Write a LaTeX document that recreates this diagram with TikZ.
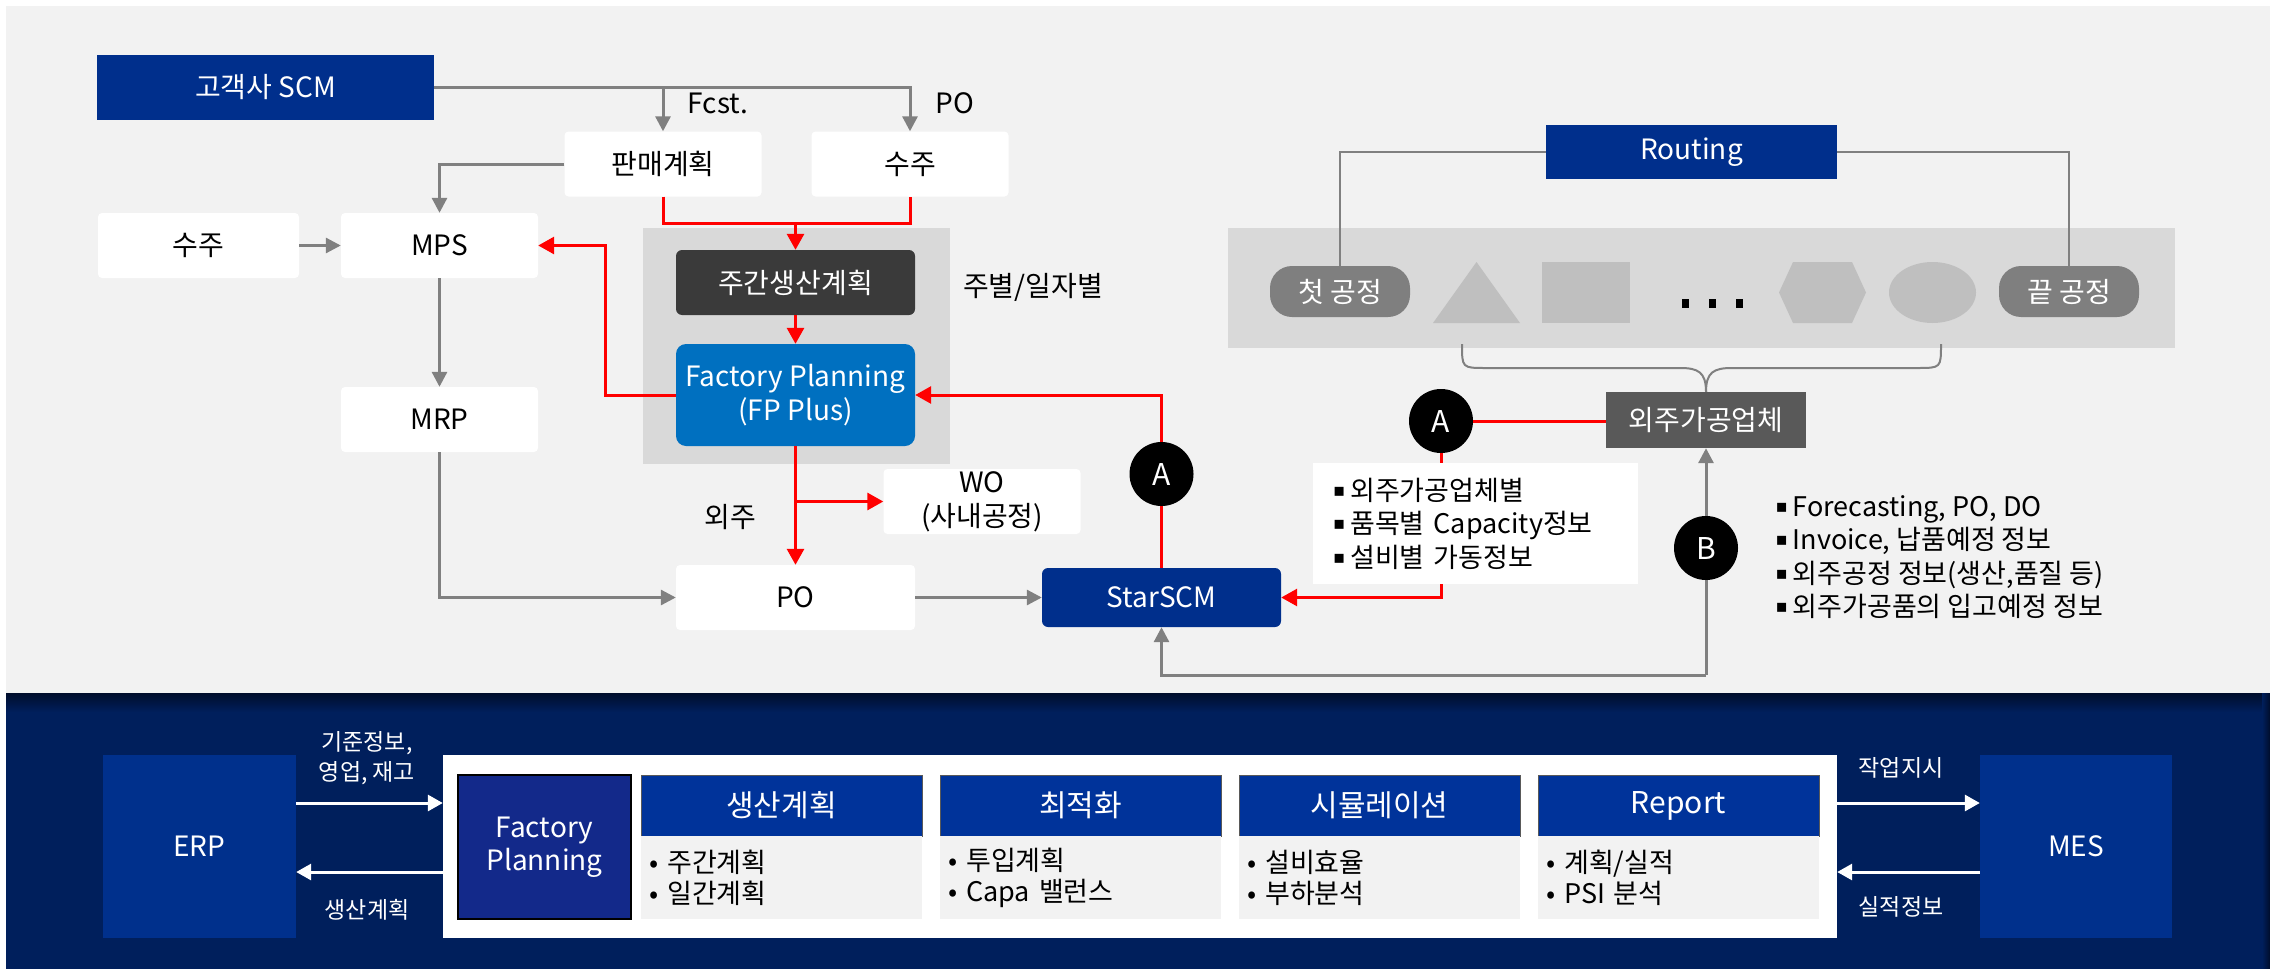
\documentclass[tikz,border=0pt]{standalone}
\usepackage{fontspec}
\setmainfont{Noto Sans CJK KR}
\newfontfamily\symfont{DejaVu Sans}
\usetikzlibrary{arrows.meta}

\definecolor{bglight}{HTML}{F2F2F2}
\definecolor{panelgray}{HTML}{D9D9D9}
\definecolor{scmblue}{HTML}{002F8C}
\definecolor{fpblue}{HTML}{0070C0}
\definecolor{weekgray}{HTML}{3A3A3A}
\definecolor{subgray}{HTML}{595959}
\definecolor{pillgray}{HTML}{7F7F7F}
\definecolor{shapegray}{HTML}{BFBFBF}
\definecolor{linegray}{HTML}{808080}
\definecolor{navy}{HTML}{001F5C}
\definecolor{navytop}{HTML}{000D2B}
\definecolor{erpblue}{HTML}{00308C}
\definecolor{fpnavy}{HTML}{13298A}
\definecolor{headblue}{HTML}{00339A}

\newcommand{\sqb}{\raisebox{4pt}{\symfont\fontsize{18}{18}\selectfont ▪}\hspace{5pt}}

\tikzset{
  whitebox/.style={rectangle, fill=white, rounded corners=4pt, inner sep=0pt, minimum width=197pt, minimum height=65pt},
  bluebox/.style={rectangle, fill=scmblue, text=white, inner sep=0pt},
  pill/.style={rectangle, fill=pillgray, text=white, rounded corners=22pt, inner sep=0pt, minimum width=140pt, minimum height=51pt},
  marker/.style={circle, fill=black, text=white, inner sep=0pt, minimum size=64pt, font=\fontsize{30}{30}\selectfont},
  sysbox/.style={rectangle, fill=erpblue, text=white, inner sep=0pt, minimum width=193pt, minimum height=183pt},
  headbox/.style={rectangle, fill=headblue, draw=black!65, line width=1pt, text=white, inner sep=0pt, minimum width=281pt, minimum height=61pt, font=\fontsize{30}{34}\selectfont},
  bodybox/.style={rectangle, fill=bglight, inner xsep=8pt, inner ysep=0pt, text width=265pt, minimum height=83pt, align=left, font=\fontsize{27}{31}\selectfont},
  smalltext/.style={text=white, align=center, font=\fontsize{23}{30}\selectfont},
  grayarrow/.style={draw=linegray, line width=3pt, -{Triangle[length=15pt,width=15pt]}},
  grayline/.style={draw=linegray, line width=3pt},
  thinline/.style={draw=linegray, line width=2pt},
  redarrow/.style={draw=red, line width=3pt, -{Triangle[length=16pt,width=17pt]}},
  redline/.style={draw=red, line width=3pt},
  whitearrow/.style={draw=white, line width=3pt, -{Triangle[length=15pt,width=16pt]}}
}

\begin{document}
\begin{tikzpicture}[x=1pt, y=-1pt, font=\fontsize{28}{34}\selectfont]
\useasboundingbox (0,0) rectangle (2270,969);

% backgrounds
\fill[bglight] (6,6) rectangle (2270,693);
\fill[navy] (6,693) rectangle (2270,969);
\shade[top color=navytop, bottom color=navy] (6,693) rectangle (2270,712);
\shade[left color=navy, right color=navytop] (2262,693) rectangle (2270,969);
\fill[panelgray] (643,228) rectangle (950,464);
\fill[panelgray] (1228,228) rectangle (2175,348);

% upper left flow
\node(scm) [bluebox, minimum width=337pt, minimum height=65pt] at (265.5,87.5) {고객사 SCM};
\node(plan) [whitebox] at (663,164) {판매계획};
\node(order) [whitebox] at (910,164) {수주};
\node(fcst) at (718,103) {Fcst.};
\node(polabel) at (955,103) {PO};
\node(order2) [whitebox, minimum width=201pt] at (198.5,245.5) {수주};
\node(mps) [whitebox] at (439.5,245.5) {MPS};
\node(mrp) [whitebox] at (439.5,419.5) {MRP};
\node(weekly) [rectangle, fill=weekgray, text=white, rounded corners=6pt, minimum width=239pt, minimum height=65pt] at (795.5,282.5) {주간생산계획};
\node(fp) [rectangle, fill=fpblue, text=white, rounded corners=10pt, inner sep=0pt, minimum width=239pt, minimum height=102pt, align=center] at (795.5,395) {Factory Planning\\(FP Plus)};
\node(perday) at (1033,287) {주별/일자별};
\node(wo) [whitebox, align=center] at (982,501.5) {WO\\(사내공정)};
\node(outsrc) at (730,517) {외주};
\node(po) [whitebox, minimum width=239pt] at (795.5,597.5) {PO};
\node(star) [bluebox, rounded corners=6pt, minimum width=239pt, minimum height=59pt] at (1161.5,597.5) {StarSCM};

\draw[grayline] (scm.east) -- (plan.north |- scm.east);
\draw[grayarrow] (scm.east) -| (order.north);
\draw[grayarrow] (plan.north |- scm.east) -- (plan.north);
\draw[grayarrow] (plan.west) -| (mps.north);
\draw[grayarrow] (order2.east) -- (mps.west);
\draw[grayarrow] (mps.south) -- (mrp.north);
\draw[grayarrow] (mrp.south) |- (po.west);
\draw[grayarrow] (po.east) -- (star.west);

\coordinate(merge) at (795.5,223);
\draw[redline] (plan.south) |- (merge) -| (order.south);
\draw[redarrow] (merge) -- (weekly.north);
\draw[redarrow] (weekly.south) -- (fp.north);
\draw[redarrow] (fp.west) -- ++(-70,0) |- (mps.east);
\draw[redarrow] (fp.south) -- (po.north);
\draw[redarrow] (fp.south |- wo.west) -- (wo.west);
\draw[redarrow] (star.north) |- (fp.east);
\node(aleft) [marker] at (1161.5,474) {A};

% routing
\node(routing) [bluebox, minimum width=291pt, minimum height=54pt] at (1691.5,152) {Routing};
\node(first) [pill] at (1340,291.5) {첫 공정};
\node(last) [pill] at (2069,291.5) {끝 공정};
\draw[thinline] (routing.west) -| (first.north);
\draw[thinline] (routing.east) -| (last.north);
\fill[shapegray] (1433,323) -- (1476.5,262) -- (1520,323) -- cycle;
\fill[shapegray] (1542,262) rectangle (1630,323);
\foreach \x in {1685,1712,1739}
  \fill[black] (\x-3.5,299) rectangle (\x+3.5,308);
\fill[shapegray] (1779,292.5) -- (1793,262) -- (1852,262) -- (1866,292.5) -- (1852,323) -- (1793,323) -- cycle;
\fill[shapegray] (1932.5,292.5) ellipse [x radius=43.5, y radius=30.5];

% subcontractor
\node(sub) [rectangle, fill=subgray, text=white, inner sep=0pt, minimum width=200pt, minimum height=56pt] at (1706,420) {외주가공업체};
\draw[thinline] (1462,344) .. controls (1462,368) and (1462,368) .. (1486,368) -- (1680,368) .. controls (1698,368) and (1706,372) .. (sub.north);
\draw[thinline] (1941,344) .. controls (1941,368) and (1941,368) .. (1917,368) -- (1732,368) .. controls (1714,368) and (1706,372) .. (sub.north);
\node(atop) [marker] at (1441,421) {A};
\draw[redline] (atop.east) -- (atop.east -| sub.west);
\draw[redarrow] (atop.south) |- (star.east);
\node(infoA) [rectangle, fill=white, minimum width=325pt, minimum height=121pt, inner xsep=20pt, text width=285pt, align=left, font=\fontsize{27}{33.5}\selectfont] at (1475.5,523.5) {\sqb 외주가공업체별\\\sqb 품목별 Capacity정보\\\sqb 설비별 가동정보};

\coordinate(corner) at (1706,675);
\draw[grayarrow] (corner) -- (sub.south);
\draw[grayarrow] (corner) -| (star.south);
\node(b) [marker] at (1706,548) {B};
\node(infoB) [anchor=west, align=left, font=\fontsize{27}{33.5}\selectfont] at (1772,557) {\sqb Forecasting, PO, DO\\\sqb Invoice, 납품예정 정보\\\sqb 외주공정 정보(생산,품질 등)\\\sqb 외주가공품의 입고예정 정보};

% bottom band
\node(erp) [sysbox] at (199.5,846.5) {ERP};
\node(mes) [sysbox, minimum width=192pt] at (2076,846.5) {MES};
\node(big) [rectangle, fill=white, inner sep=0pt, minimum width=1394pt, minimum height=183pt] at (1140,846.5) {};
\node(fpb) [rectangle, fill=fpnavy, draw=black, line width=1.5pt, text=white, inner sep=0pt, minimum width=173pt, minimum height=144pt, align=center, font=\fontsize{28}{33}\selectfont] at (544.5,847) {Factory\\Planning};
\foreach \x/\head/\one/\two [count=\i] in {641/생산계획/주간계획/일간계획, 940/최적화/투입계획/Capa 밸런스, 1239/시뮬레이션/설비효율/부하분석, 1538/Report/{계획/실적}/PSI 분석}
{
  \node(head\i) [headbox] at (\x+140.5,805.5) {\head};
  \node(body\i) [bodybox] at (\x+140.5,877.5) {• \one\\• \two};
}
\draw[whitearrow] ([yshift=43.5pt]erp.east) -- ([yshift=43.5pt]big.west);
\draw[whitearrow] ([yshift=-25.5pt]big.west) -- ([yshift=-25.5pt]erp.east);
\draw[whitearrow] ([yshift=43.5pt]big.east) -- ([yshift=43.5pt]mes.west);
\draw[whitearrow] ([yshift=-25.5pt]mes.west) -- ([yshift=-25.5pt]big.east);
\node(basis) [smalltext] at (367,758) {기준정보,\\영업, 재고};
\node(planback) [smalltext] at (367,910) {생산계획};
\node(workorder) [smalltext] at (1901,768) {작업지시};
\node(result) [smalltext] at (1901,907) {실적정보};

\end{tikzpicture}
\end{document}
